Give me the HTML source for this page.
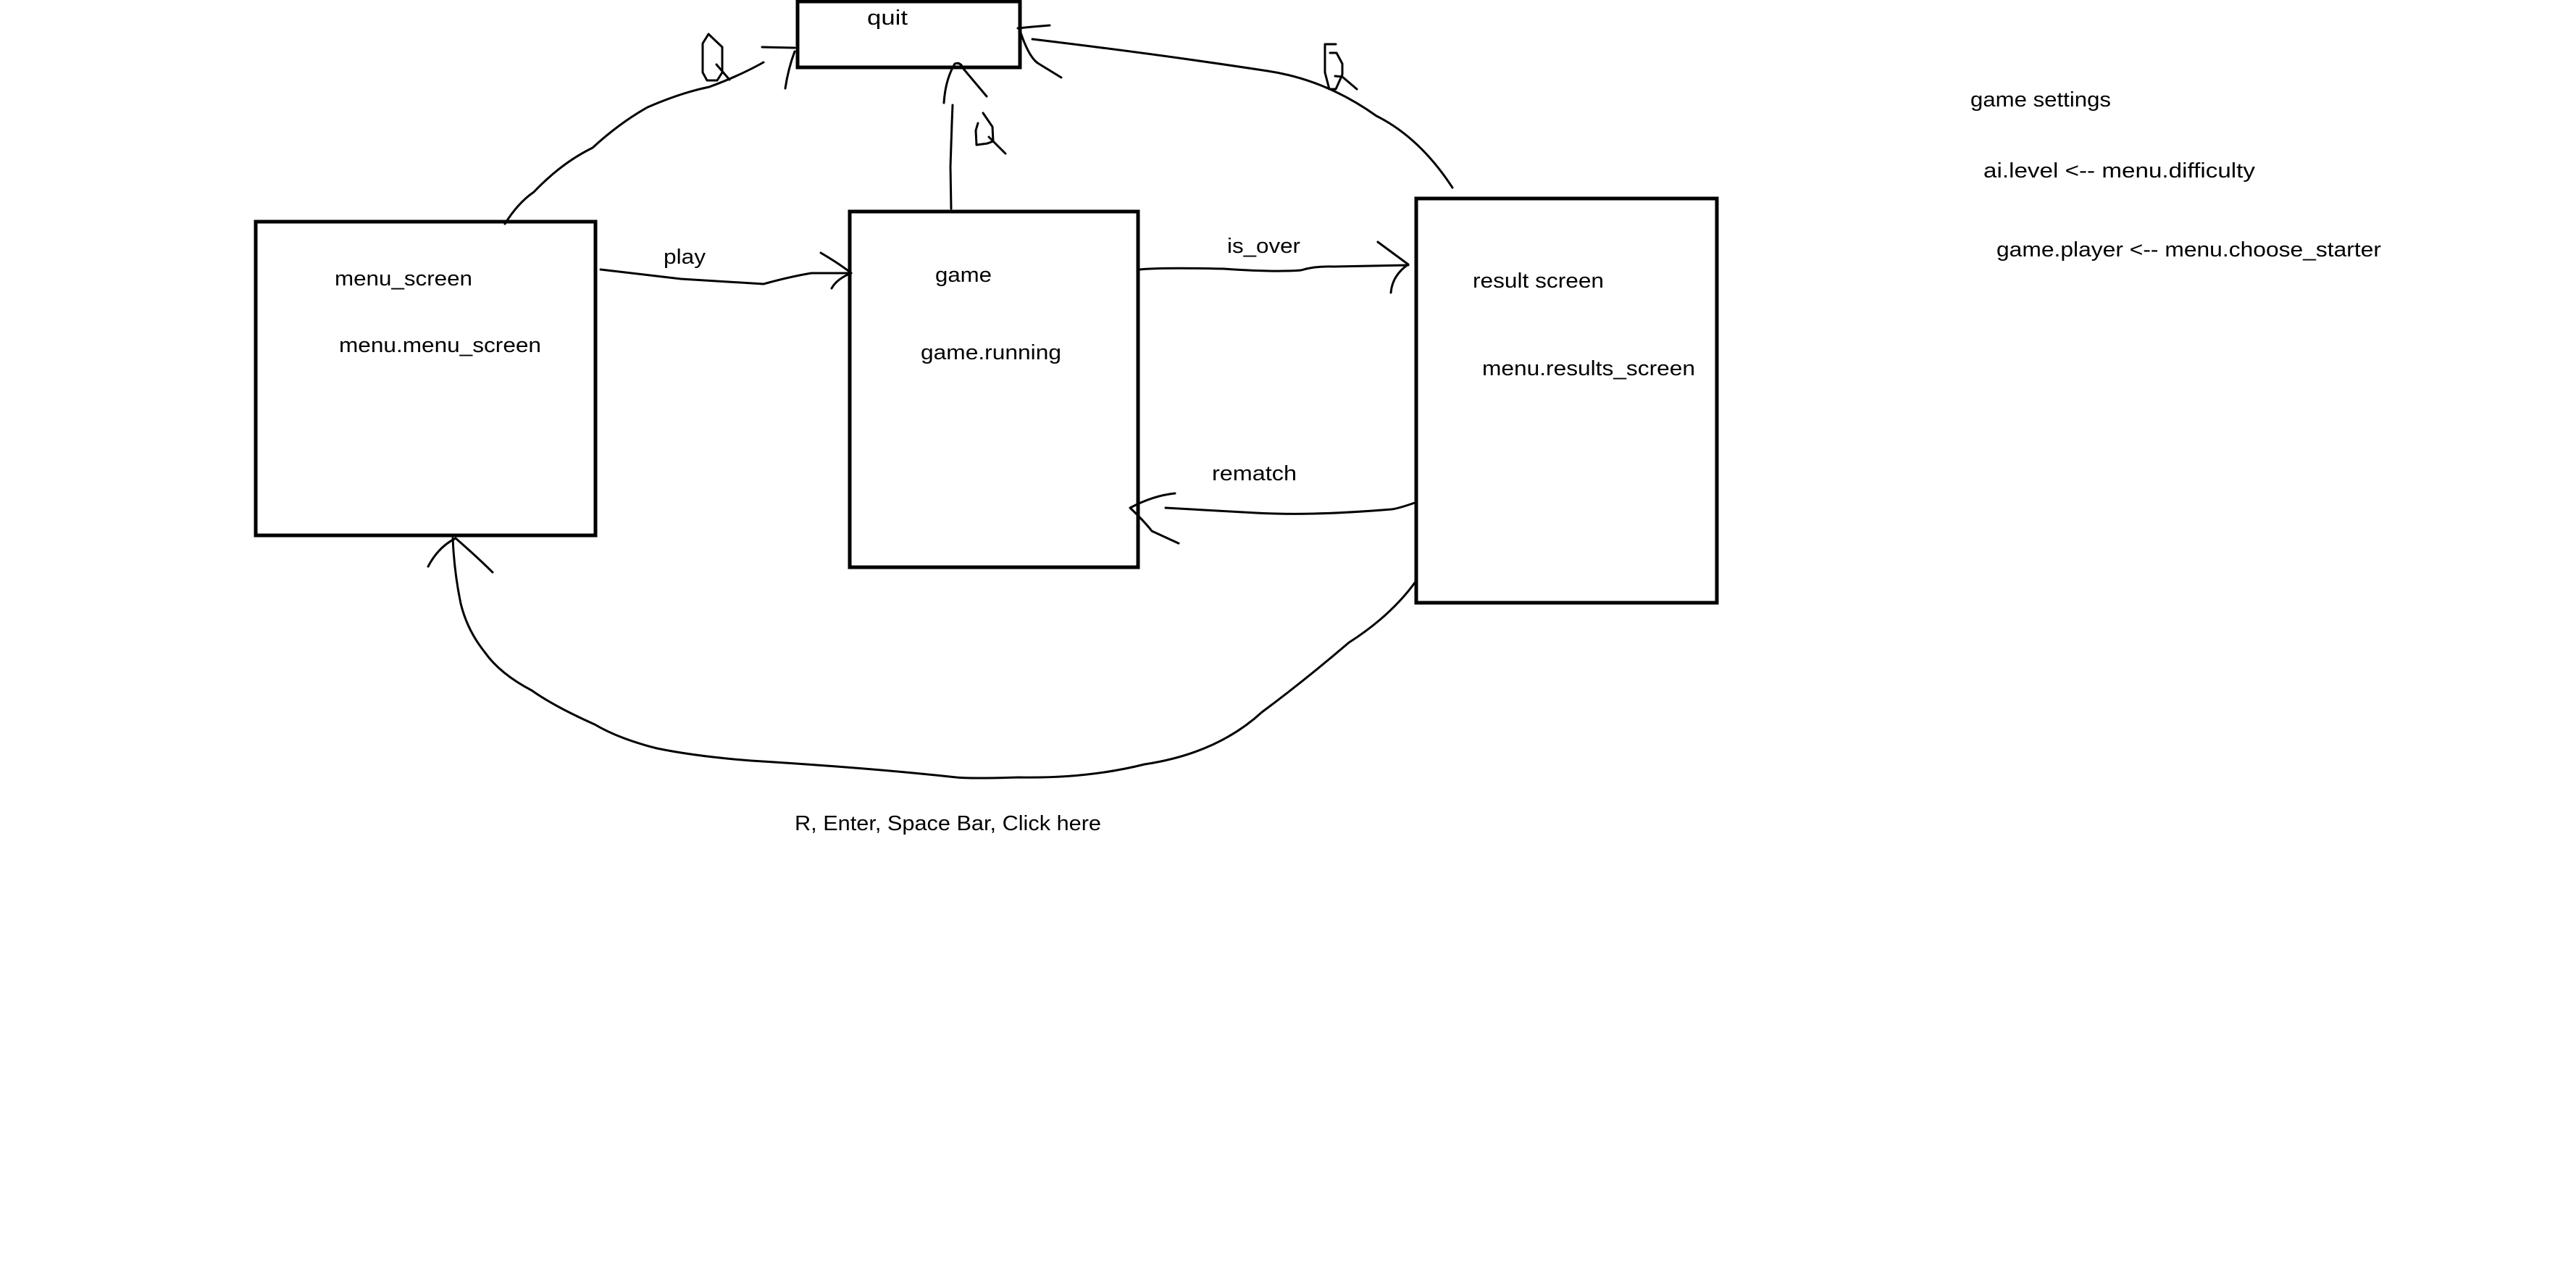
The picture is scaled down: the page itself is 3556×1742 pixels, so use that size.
<!DOCTYPE html>
<html><head><meta charset="utf-8"><style>
html,body{margin:0;padding:0;background:#fff;}
svg{display:block;}
text{font-family:"Liberation Sans",sans-serif;font-size:29px;fill:#000;}
</style></head><body>
<svg width="3556" height="1742" viewBox="0 0 3556 1742" xmlns="http://www.w3.org/2000/svg">
<rect width="3556" height="1742" fill="#fff"/>
<g fill="none" stroke="#000" stroke-width="5">
<rect x="1101" y="2" width="307" height="91"/>
<rect x="353" y="306" width="469" height="433"/>
<rect x="1173" y="292" width="398" height="491"/>
<rect x="1955" y="274" width="415" height="558"/>
</g>
<g fill="none" stroke="#000" stroke-width="3" stroke-linecap="round" stroke-linejoin="round">
<!-- menu -> quit -->
<path d="M697,309 Q715,280 737,265 Q775,225 818,204 Q855,170 894,148 Q940,128 979,120 Q1020,105 1054,86"/>
<path d="M1052,65 L1097,66"/>
<path d="M1097,71 Q1088,95 1084,122"/>
<path d="M978,47 L970,60 L970,100 L976,111 L990,111 L997,100 L997,65 Z M989,89 L1007,110"/>
<!-- game -> quit -->
<path d="M1313,288 L1312,230 L1314,170 L1315,145"/>
<path d="M1303,142 Q1305,110 1318,88 Q1326,85 1330,95 L1362,133"/>
<path d="M1357,156 L1370,175 L1371,195 L1363,198 L1348,200 L1347,180 L1350,170 M1365,189 L1388,212"/>
<!-- result -> quit -->
<path d="M2005,259 Q1960,190 1900,160 Q1830,110 1750,98 Q1600,75 1425,54"/>
<path d="M1405,39 L1425,37 L1449,35"/>
<path d="M1407,39 Q1420,80 1434,88 L1465,107"/>
<path d="M1844,61 L1829,61 L1829,100 L1835,123 L1844,123 L1853,103 L1853,88 L1845,73 L1836,73 M1843,105 L1853,106 L1873,123"/>
<!-- play -->
<path d="M829,372 L940,385 L1054,392 Q1090,382 1120,377 L1175,377"/>
<path d="M1133,349 Q1160,365 1175,377 Q1155,385 1148,398"/>
<!-- is_over -->
<path d="M1573,372 Q1600,369 1689,371 Q1760,376 1796,373 Q1815,367 1841,368 L1944,366"/>
<path d="M1902,334 L1944,365 Q1922,380 1920,404"/>
<!-- rematch -->
<path d="M1953,694 Q1930,702 1921,703 Q1860,708 1814,709 Q1770,710 1734,708 L1609,701"/>
<path d="M1622,681 Q1592,684 1560,701 Q1580,720 1590,733 L1627,750"/>
<!-- result -> menu -->
<path d="M1954,803 Q1920,850 1862,887 Q1800,940 1742,983 Q1680,1040 1580,1055 Q1500,1075 1406,1073 Q1340,1075 1320,1073 Q1200,1060 1037,1050 Q960,1044 907,1033 Q855,1020 821,1000 Q765,975 734,953 Q690,930 669,900 Q645,870 636,833 Q627,790 625,743"/>
<path d="M591,782 Q605,755 629,743 Q660,770 680,790"/>
</g>
<text x="1197" y="34" textLength="56" lengthAdjust="spacingAndGlyphs">quit</text>
<text x="462" y="394" textLength="190" lengthAdjust="spacingAndGlyphs">menu_screen</text>
<text x="468" y="486" textLength="279" lengthAdjust="spacingAndGlyphs">menu.menu_screen</text>
<text x="1291" y="389" textLength="78" lengthAdjust="spacingAndGlyphs">game</text>
<text x="1271" y="496" textLength="194" lengthAdjust="spacingAndGlyphs">game.running</text>
<text x="916" y="364" textLength="58" lengthAdjust="spacingAndGlyphs">play</text>
<text x="1694" y="349" textLength="101" lengthAdjust="spacingAndGlyphs">is_over</text>
<text x="2033" y="397" textLength="181" lengthAdjust="spacingAndGlyphs">result screen</text>
<text x="2046" y="518" textLength="294" lengthAdjust="spacingAndGlyphs">menu.results_screen</text>
<text x="1673" y="663" textLength="117" lengthAdjust="spacingAndGlyphs">rematch</text>
<text x="1097" y="1146" textLength="423" lengthAdjust="spacingAndGlyphs">R, Enter, Space Bar, Click here</text>
<text x="2720" y="147" textLength="194" lengthAdjust="spacingAndGlyphs">game settings</text>
<text x="2738" y="245" textLength="375" lengthAdjust="spacingAndGlyphs">ai.level  &lt;-- menu.difficulty</text>
<text x="2756" y="354" textLength="531" lengthAdjust="spacingAndGlyphs">game.player &lt;-- menu.choose_starter</text>
</svg>
</body></html>
